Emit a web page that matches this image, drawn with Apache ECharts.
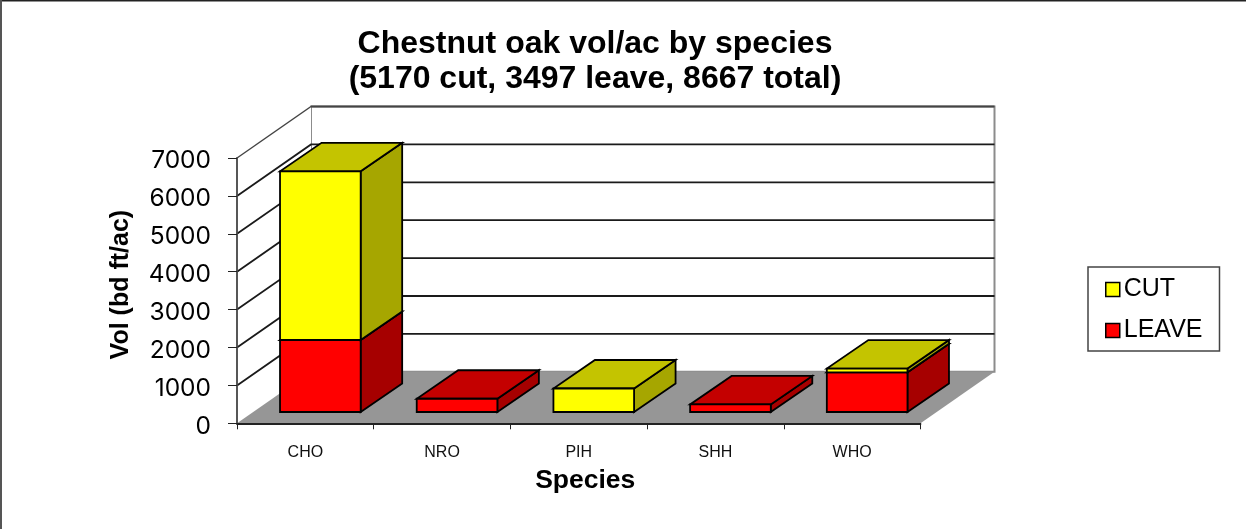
<!DOCTYPE html>
<html><head><meta charset="utf-8">
<style>html,body{margin:0;padding:0;background:#fff}#c{width:1246px;height:529px}</style>
<script src="https://cdn.jsdelivr.net/npm/echarts@6/dist/echarts.min.js"></script>
</head><body><div id="c"></div>
<script>
const categories = ['CHO','NRO','PIH','SHH','WHO'];
const leaveValues = [1900, 350, 0, 200, 1047];
const cutValues = [4450, 0, 620, 0, 100];
const yTicks = [1000,2000,3000,4000,5000,6000];
const yMax = 7000;

const FONT = '"Liberation Sans", Arial, sans-serif';
const WIDE = 'Inter, "Liberation Sans", Arial, sans-serif';
const DEPTH = [74, -51.5];
const BAR_OFFSET = [15, -11.3];
const BAR_DEPTH = [41.5, -28.5];
const BAR_W = 0.59;

function poly(points, fill, stroke, lw) {
  return {type:'polygon', shape:{points}, style:{fill, stroke:stroke||null, lineWidth:lw||0}};
}
function shellItem(params, api) {
  const g = params.coordSys, x0=g.x, x1=g.x+g.width, y0=g.y+g.height, y1=g.y;
  const [dx,dy]=DEPTH;
  return {type:'group', children:[
    poly([[x0+dx,y1+dy],[x1+dx,y1+dy],[x1+dx,y0+dy],[x0+dx,y0+dy]], '#fff', '#8c8c8c', 2),
    poly([[x0,y0],[x0+dx,y0+dy],[x0+dx,y1+dy],[x0,y1]], '#fff', null, 0),
    {type:'line', shape:{x1:x0,y1:y1,x2:x0+dx,y2:y1+dy}, style:{stroke:'#444',lineWidth:1.5}},
    {type:'line', shape:{x1:x0+dx,y1:y1+dy,x2:x1+dx,y2:y1+dy}, style:{stroke:'#444',lineWidth:2}},
    poly([[x0,y0],[x1,y0],[x1+dx,y0+dy],[x0+dx,y0+dy]], '#969696', null, 0)
  ]};
}
function gridItem(params, api) {
  const g = params.coordSys, p = api.coord([0, api.value(1)]);
  const [dx,dy]=DEPTH, y=p[1];
  return {type:'polyline', shape:{points:[[g.x,y],[g.x+dx,y+dy],[g.x+g.width+dx,y+dy]]},
    style:{fill:null, stroke:'#1a1a1a', lineWidth:1.8}};
}
function barRenderer(front, side, top) {
  return function(params, api) {
    const c = api.value(0), a = api.value(1), b = api.value(2);
    if (b <= a) return null;
    const pa = api.coord([c,a]), pb = api.coord([c,b]), w = api.size([1,0])[0]*BAR_W;
    const l = pa[0]+BAR_OFFSET[0]-w/2, r = l+w;
    const ya = pa[1]+BAR_OFFSET[1], yb = pb[1]+BAR_OFFSET[1];
    const [dx,dy]=BAR_DEPTH, s='#000', lw=1.8;
    return {type:'group', children:[
      poly([[r,ya],[r+dx,ya+dy],[r+dx,yb+dy],[r,yb]], side, s, lw),
      poly([[l,yb],[r,yb],[r+dx,yb+dy],[l+dx,yb+dy]], top, s, lw),
      poly([[l,ya],[r,ya],[r,yb],[l,yb]], front, s, lw)
    ]};
  };
}
const leaveData = categories.map((_,i)=>[i,0,leaveValues[i]]);
const cutData = categories.map((_,i)=>[i,leaveValues[i],leaveValues[i]+cutValues[i]]);

const chart = echarts.init(document.getElementById('c'), null, {renderer:'canvas'});
chart.setOption({
  animation:false,
  backgroundColor:'#fff',
  title:{
    text:'Chestnut oak vol/ac by species\n(5170 cut, 3497 leave, 8667 total)',
    left:590, top:22, textAlign:'center',
    textStyle:{fontFamily:FONT,fontSize:32,fontWeight:'bold',color:'#000',lineHeight:35}
  },
  legend:{
    orient:'vertical', left:1088, top:267, data:['CUT','LEAVE'],
    backgroundColor:'#fff', borderColor:'#444', borderWidth:1.5,
    padding:[10,17,8,17], itemGap:16, itemWidth:14, itemHeight:14, icon:'rect',
    itemStyle:{borderColor:'#000',borderWidth:1.5},
    textStyle:{fontFamily:FONT,fontSize:25,color:'#000',padding:[0,0,0,-1]}
  },
  grid:{left:237, top:158, width:683.5, height:265.3, containLabel:false},
  xAxis:{type:'category', data:categories, z:5,
    name:'Species', nameLocation:'middle', nameGap:44,
    nameTextStyle:{fontFamily:FONT,fontSize:26.5,fontWeight:'bold',color:'#000',padding:[0,0,0,13]},
    axisLine:{lineStyle:{color:'#222',width:1.8}},
    axisTick:{show:true,length:6,lineStyle:{color:'#222',width:1}},
    axisLabel:{fontFamily:FONT,fontSize:16,color:'#111',margin:21,interval:0}
  },
  yAxis:{type:'value', min:0, max:yMax, interval:1000, z:5,
    name:'Vol (bd ft/ac)', nameLocation:'middle', nameRotate:90, nameGap:103,
    nameTextStyle:{fontFamily:FONT,fontSize:25,fontWeight:'bold',color:'#000',padding:[0,0,0,12]},
    axisLine:{show:true,lineStyle:{color:'#444',width:1.8}},
    axisTick:{show:true,length:9,lineStyle:{color:'#222',width:1}},
    splitLine:{show:false},
    axisLabel:{margin:26,formatter:v=>'{t|'+v+'}',
      rich:{t:{fontFamily:WIDE,fontSize:24.5,color:'#000',padding:[6,0,0,0]}}}
  },
  series:[
    {type:'custom', name:'shell', silent:true, z:1, coordinateSystem:'cartesian2d', data:[[0,0]], renderItem:shellItem},
    {type:'custom', name:'gridlines', silent:true, z:2, coordinateSystem:'cartesian2d', data:yTicks.map(v=>[0,v]), renderItem:gridItem},
    {type:'custom', name:'LEAVE', z:3, coordinateSystem:'cartesian2d', itemStyle:{color:'#ff0000'}, data:leaveData, encode:{x:0,y:2}, renderItem:barRenderer('#ff0000','#a60000','#c40000')},
    {type:'custom', name:'CUT', z:4, coordinateSystem:'cartesian2d', itemStyle:{color:'#ffff00'}, data:cutData, encode:{x:0,y:2}, renderItem:barRenderer('#ffff00','#a6a600','#c4c400')}
  ],
  graphic:[
    {type:'line', silent:true, z:0, shape:{x1:0,y1:0.5,x2:1246,y2:0.5}, style:{stroke:'#222',lineWidth:2}},
    {type:'line', silent:true, z:0, shape:{x1:1,y1:0,x2:1,y2:529}, style:{stroke:'#555',lineWidth:2}}
  ]
});
</script></body></html>
